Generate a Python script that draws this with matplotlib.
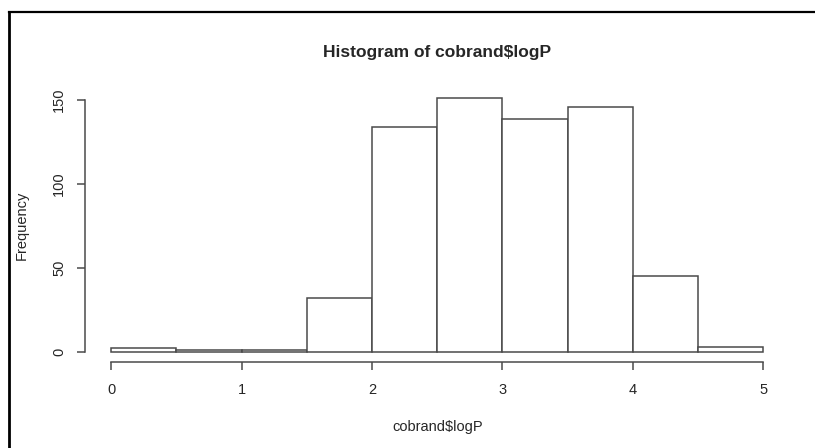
import matplotlib
matplotlib.use('Agg')
import matplotlib.pyplot as plt
from matplotlib.lines import Line2D
import numpy as np

# histogram counts (bin width 0.5)
bin_edges = [0.0, 0.5, 1.0, 1.5, 2.0, 2.5, 3.0, 3.5, 4.0, 4.5, 5.0]
counts = [2, 1, 1, 32, 134, 151, 139, 146, 45, 3]
x_ticks = [0, 1, 2, 3, 4, 5]
y_ticks = [0, 50, 100, 150]

plt.rcParams['font.family'] = ['Liberation Sans', 'DejaVu Sans']
text_col = '#262626'
line_col = '#4a4a4a'

fig = plt.figure(figsize=(8.15, 4.48), dpi=100, facecolor='white')
ax = fig.add_axes([85 / 815, 1 - 361.7 / 448, 704.4 / 815, 273.4 / 448])

lefts = np.array(bin_edges[:-1])
widths = np.diff(bin_edges)
ax.bar(lefts, counts, width=widths, align='edge', facecolor='white',
       edgecolor=line_col, linewidth=1.1)

# R-style axes: limits padded 4%, axis lines only between first and last tick
ax.set_xlim(-0.2, 5.2)
ax.set_ylim(-6.04, 157.04)
for side in ['top', 'right']:
    ax.spines[side].set_visible(False)
ax.spines['left'].set_bounds(0, 150)
ax.spines['bottom'].set_bounds(0, 5)
for side in ['left', 'bottom']:
    ax.spines[side].set_color(line_col)
    ax.spines[side].set_linewidth(1.1)

ax.set_xticks(x_ticks)
ax.set_yticks(y_ticks)
ax.tick_params(direction='out', length=6, width=1.1, color=line_col,
               labelsize=10.5, labelcolor=text_col)
ax.tick_params(axis='x', pad=9)
ax.tick_params(axis='y', pad=7.5)
for lab in ax.get_yticklabels():
    lab.set_rotation(90)
    lab.set_va('center')

ax.text(0.5, 1.1145, 'Histogram of cobrand$logP', transform=ax.transAxes,
        ha='center', va='baseline', fontsize=12.5, fontweight='bold', color=text_col)
ax.text(0.5, -0.2553, 'cobrand$logP', transform=ax.transAxes,
        ha='center', va='baseline', fontsize=10.5, color=text_col)
ax.text(-0.0894, 0.5, 'Frequency', transform=ax.transAxes, rotation=90,
        ha='center', va='center', fontsize=10.5, color=text_col)

# frame of the screenshot (top and left edges)
fig.add_artist(Line2D([8.7 / 815, 1.0], [1 - 12.5 / 448, 1 - 12.5 / 448],
                      transform=fig.transFigure, color='black', linewidth=1.6))
fig.add_artist(Line2D([8.7 / 815, 8.7 / 815], [0.0, 1 - 12.5 / 448],
                      transform=fig.transFigure, color='black', linewidth=2.0))

fig.savefig('out.png', dpi=100, facecolor=fig.get_facecolor())
